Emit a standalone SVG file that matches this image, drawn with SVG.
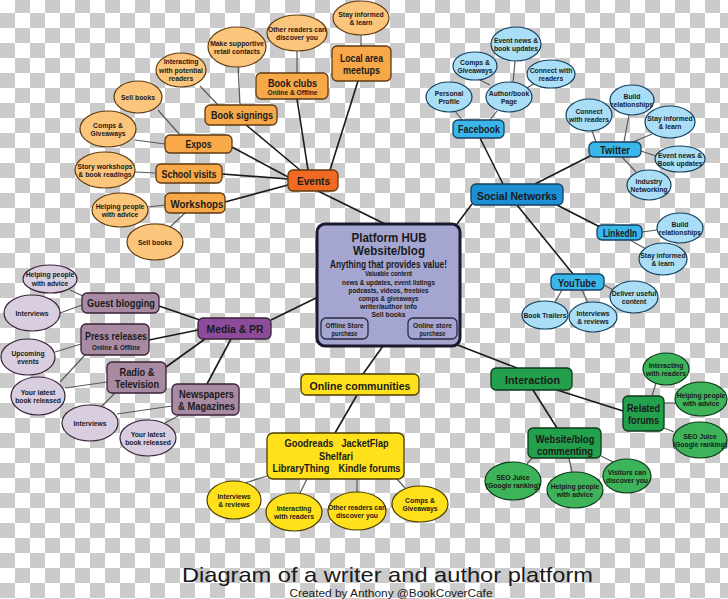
<svg xmlns="http://www.w3.org/2000/svg" width="728" height="599" viewBox="0 0 728 599">
<defs>
<pattern id="chk" x="0" y="-2" width="30" height="30" patternUnits="userSpaceOnUse">
<rect width="30" height="30" fill="#ffffff"/>
<rect x="15" y="0" width="15" height="15" fill="#cbcbcb"/>
<rect x="0" y="15" width="15" height="15" fill="#cbcbcb"/>
</pattern>
</defs>
<style>
text{font-family:"Liberation Sans",Arial,sans-serif;font-weight:bold;text-anchor:middle;fill:#1a1a1a}
.L{font-size:11.5px}
.S{font-size:7.5px}
.E{font-size:6.8px}
.H{font-size:12px}
.ttl{font-weight:normal;font-size:21px}
.sub{font-weight:normal;font-size:11px}
.m{stroke:#1a1a1a;stroke-width:1.6;fill:none}
.s{stroke:#5a5a5a;stroke-width:1.2;fill:none}
.ob{fill:#f7a848;stroke:#5e3b12;stroke-width:1.3}
.oe{fill:#fcc57c;stroke:#5e3b12;stroke-width:1.2}
.ev{fill:#f26a22;stroke:#5e3b12;stroke-width:1.3}
.bb{fill:#3ab6ea;stroke:#14405e;stroke-width:1.3}
.be{fill:#a9def6;stroke:#14405e;stroke-width:1.2}
.sn{fill:#1b90d3;stroke:#14405e;stroke-width:1.3}
.pb{fill:#a88aa3;stroke:#3a2238;stroke-width:1.3}
.pe{fill:#d9cee0;stroke:#3a2238;stroke-width:1.2}
.mp{fill:#8d4c9b;stroke:#3a2238;stroke-width:1.3}
.yb{fill:#ffe11b;stroke:#4a3d00;stroke-width:1.3}
.ye{fill:#ffe11b;stroke:#4a3d00;stroke-width:1.2}
.gb{fill:#23a04c;stroke:#0c3a1a;stroke-width:1.3}
.ge{fill:#3db35a;stroke:#0c3a1a;stroke-width:1.2}
.hub{fill:#a4a5d1;stroke:#1a1a2e;stroke-width:3}
.hs{fill:#a4a5d1;stroke:#2a2a40;stroke-width:1.3}
</style>
<rect width="728" height="599" fill="url(#chk)"/>

<g id="connectors">
<!-- events -->
<path class="m" d="M245,124 L300,170"/>
<path class="m" d="M297,99 L308,170"/>
<path class="m" d="M358,81 L330,170"/>
<path class="m" d="M232,147 L288,177"/>
<path class="m" d="M222,174 L288,179"/>
<path class="m" d="M225,202 L288,185"/>
<path class="m" d="M318,191 L385,224"/>
<path class="s" d="M200,86 L218,105"/>
<path class="s" d="M238,65 L240,105"/>
<path class="s" d="M158,110 L180,135"/>
<path class="s" d="M135,140 L165,144"/>
<path class="s" d="M135,172 L156,173"/>
<path class="s" d="M148,207 L165,205"/>
<path class="s" d="M170,227 L185,213"/>
<path class="s" d="M297,51 L297,73"/>
<path class="s" d="M361,35 L361,46"/>
<!-- social -->
<path class="m" d="M480,138 L503,184"/>
<path class="m" d="M535,184 L592,155"/>
<path class="m" d="M557,205 L600,227"/>
<path class="m" d="M472,204 L457,224"/>
<path class="m" d="M517,205 L573,274"/>
<path class="s" d="M462,120 L455,111"/>
<path class="s" d="M490,120 L497,111"/>
<path class="s" d="M490,85 L478,79"/>
<path class="s" d="M513,83 L515,61"/>
<path class="s" d="M527,88 L535,83"/>
<path class="s" d="M596,142 L592,131"/>
<path class="s" d="M624,142 L629,115"/>
<path class="s" d="M633,142 L652,134"/>
<path class="s" d="M641,151 L656,156"/>
<path class="s" d="M622,157 L636,172"/>
<path class="s" d="M642,232 L657,230"/>
<path class="s" d="M630,240 L646,249"/>
<path class="s" d="M562,290 L555,302"/>
<path class="s" d="M582,290 L588,303"/>
<path class="s" d="M604,285 L613,290"/>
<!-- media -->
<path class="m" d="M159,306 L200,320"/>
<path class="m" d="M149,340 L198,330"/>
<path class="m" d="M166,367 L205,339"/>
<path class="m" d="M207,384 L231,339"/>
<path class="m" d="M271,320 L318,297"/>
<path class="s" d="M70,290 L85,297"/>
<path class="s" d="M60,313 L82,305"/>
<path class="s" d="M55,352 L81,344"/>
<path class="s" d="M60,382 L85,355"/>
<path class="s" d="M65,388 L107,382"/>
<path class="s" d="M100,408 L115,393"/>
<path class="s" d="M117,414 L172,406"/>
<path class="s" d="M165,423 L180,415"/>
<!-- online communities -->
<path class="m" d="M383,346 L363,374"/>
<path class="m" d="M357,395 L335,433"/>
<path class="s" d="M245,483 L267,476"/>
<path class="s" d="M300,493 L307,479"/>
<path class="s" d="M357,492 L357,479"/>
<path class="s" d="M405,488 L397,479"/>
<!-- interaction -->
<path class="m" d="M455,344 L517,368"/>
<path class="m" d="M533,390 L557,428"/>
<path class="m" d="M557,390 L623,411"/>
<path class="s" d="M652,396 L656,383"/>
<path class="s" d="M664,403 L675,403"/>
<path class="s" d="M664,428 L674,432"/>
<path class="s" d="M532,458 L527,464"/>
<path class="s" d="M569,458 L572,472"/>
<path class="s" d="M601,456 L613,462"/>
</g>

<!-- EVENTS cluster -->
<g id="ev-stay"><ellipse class="oe" cx="361" cy="18" rx="28" ry="17"/><text class="E" x="361" y="16.5">Stay informed</text><text class="E" x="361" y="25">&amp; learn</text></g>
<g id="ev-other"><ellipse class="oe" cx="297" cy="33" rx="30" ry="18"/><text class="E" x="297" y="31.5">Other readers can</text><text class="E" x="297" y="40">discover you</text></g>
<g id="ev-make"><ellipse class="oe" cx="237" cy="47" rx="29" ry="20"/><text class="E" x="237" y="45.5">Make supportive</text><text class="E" x="237" y="54">retail contacts</text></g>
<g id="ev-interact"><ellipse class="oe" cx="181" cy="70" rx="25" ry="17"/><text class="E" x="181" y="64">Interacting</text><text class="E" x="181" y="72.5">with potential</text><text class="E" x="181" y="81">readers</text></g>
<g id="ev-sell1"><ellipse class="oe" cx="138" cy="97" rx="24" ry="16"/><text class="E" x="138" y="99.5">Sell books</text></g>
<g id="ev-comps"><ellipse class="oe" cx="108" cy="129" rx="28" ry="18"/><text class="E" x="108" y="127.5">Comps &amp;</text><text class="E" x="108" y="136">Giveaways</text></g>
<g id="ev-story"><ellipse class="oe" cx="105" cy="170" rx="30" ry="18"/><text class="E" x="105" y="168.5">Story workshops</text><text class="E" x="105" y="177">&amp; book readings</text></g>
<g id="ev-help"><ellipse class="oe" cx="120" cy="210" rx="28" ry="17"/><text class="E" x="120" y="208.5">Helping people</text><text class="E" x="120" y="217">with advice</text></g>
<g id="ev-sell2"><ellipse class="oe" cx="155" cy="242" rx="28" ry="18"/><text class="E" x="155" y="244.5">Sell books</text></g>

<g id="local-meetups"><rect class="ob" x="332" y="46" width="59" height="35" rx="5"/><text class="L" x="361.5" y="62" textLength="43" lengthAdjust="spacingAndGlyphs">Local area</text><text class="L" x="361.5" y="74" textLength="37" lengthAdjust="spacingAndGlyphs">meetups</text></g>
<g id="book-clubs"><rect class="ob" x="256" y="73" width="72" height="26" rx="5"/><text class="L" x="292.5" y="87" textLength="49" lengthAdjust="spacingAndGlyphs">Book clubs</text><text class="S" x="292.5" y="95" textLength="50" lengthAdjust="spacingAndGlyphs">Online &amp; Offline</text></g>
<g id="book-signings"><rect class="ob" x="205" y="105" width="72" height="20" rx="5"/><text class="L" x="242" y="119" textLength="62" lengthAdjust="spacingAndGlyphs">Book signings</text></g>
<g id="expos"><rect class="ob" x="165" y="135" width="67" height="18" rx="5"/><text class="L" x="198.5" y="148" textLength="26" lengthAdjust="spacingAndGlyphs">Expos</text></g>
<g id="school-visits"><rect class="ob" x="156" y="164" width="66" height="19" rx="5"/><text class="L" x="189" y="178" textLength="55" lengthAdjust="spacingAndGlyphs">School visits</text></g>
<g id="workshops"><rect class="ob" x="165" y="193" width="60" height="20" rx="5"/><text class="L" x="197" y="207.5" textLength="53" lengthAdjust="spacingAndGlyphs">Workshops</text></g>
<g id="events"><rect class="ev" x="288" y="170" width="50" height="21" rx="5"/><text class="L" x="313.5" y="185" textLength="33" lengthAdjust="spacingAndGlyphs">Events</text></g>

<!-- SOCIAL cluster -->
<g id="fb-event"><ellipse class="be" cx="516" cy="44" rx="25" ry="17"/><text class="E" x="516" y="42.5">Event news &amp;</text><text class="E" x="516" y="51">book updates</text></g>
<g id="fb-comps"><ellipse class="be" cx="475" cy="66" rx="22" ry="14"/><text class="E" x="475" y="64.5">Comps &amp;</text><text class="E" x="475" y="73">Giveaways</text></g>
<g id="fb-connect"><ellipse class="be" cx="551" cy="74" rx="24" ry="14"/><text class="E" x="551" y="72.5">Connect with</text><text class="E" x="551" y="81">readers</text></g>
<g id="fb-personal"><ellipse class="be" cx="449" cy="97" rx="23" ry="15"/><text class="E" x="449" y="95.5">Personal</text><text class="E" x="449" y="104">Profile</text></g>
<g id="fb-author"><ellipse class="be" cx="509" cy="97" rx="23" ry="15"/><text class="E" x="509" y="95.5">Author/book</text><text class="E" x="509" y="104">Page</text></g>
<g id="tw-build"><ellipse class="be" cx="632" cy="100" rx="22" ry="15"/><text class="E" x="632" y="98.5">Build</text><text class="E" x="632" y="107">relationships</text></g>
<g id="tw-connect"><ellipse class="be" cx="589" cy="115" rx="23" ry="16"/><text class="E" x="589" y="113.5">Connect</text><text class="E" x="589" y="122">with readers</text></g>
<g id="tw-stay"><ellipse class="be" cx="670" cy="122" rx="25" ry="16"/><text class="E" x="670" y="120.5">Stay informed</text><text class="E" x="670" y="129">&amp; learn</text></g>
<g id="tw-event"><ellipse class="be" cx="680" cy="159" rx="25" ry="13"/><text class="E" x="680" y="157.5">Event news &amp;</text><text class="E" x="680" y="166">Book updates</text></g>
<g id="tw-industry"><ellipse class="be" cx="649" cy="185" rx="22" ry="15"/><text class="E" x="649" y="183.5">Industry</text><text class="E" x="649" y="192">Networking</text></g>
<g id="li-build"><ellipse class="be" cx="680" cy="228" rx="23" ry="15"/><text class="E" x="680" y="226.5">Build</text><text class="E" x="680" y="235">relationships</text></g>
<g id="li-stay"><ellipse class="be" cx="663" cy="259" rx="24" ry="16"/><text class="E" x="663" y="257.5">Stay informed</text><text class="E" x="663" y="266">&amp; learn</text></g>
<g id="yt-deliver"><ellipse class="be" cx="634" cy="297" rx="24" ry="16"/><text class="E" x="634" y="295.5">Deliver useful</text><text class="E" x="634" y="304">content</text></g>
<g id="yt-trailers"><ellipse class="be" cx="545" cy="315" rx="23" ry="14"/><text class="E" x="545" y="317.5">Book Trailers</text></g>
<g id="yt-interviews"><ellipse class="be" cx="593" cy="317" rx="24" ry="15"/><text class="E" x="593" y="315.5">Interviews</text><text class="E" x="593" y="324">&amp; reviews</text></g>

<g id="facebook"><rect class="bb" x="453" y="120" width="51" height="18" rx="5"/><text class="L" x="479" y="133" textLength="42" lengthAdjust="spacingAndGlyphs">Facebook</text></g>
<g id="twitter"><rect class="bb" x="589" y="142" width="52" height="15" rx="5"/><text class="L" x="615" y="154" textLength="30" lengthAdjust="spacingAndGlyphs">Twitter</text></g>
<g id="social-networks"><rect class="sn" x="471" y="184" width="92" height="21" rx="5"/><text class="L" x="517" y="199.5" textLength="80" lengthAdjust="spacingAndGlyphs">Social Networks</text></g>
<g id="linkedin"><rect class="bb" x="597" y="225" width="45" height="15" rx="5"/><text class="L" x="620" y="237" textLength="34" lengthAdjust="spacingAndGlyphs">LinkedIn</text></g>
<g id="youtube"><rect class="bb" x="551" y="274" width="53" height="16" rx="5"/><text class="L" x="577" y="286.5" textLength="38" lengthAdjust="spacingAndGlyphs">YouTube</text></g>

<!-- MEDIA cluster -->
<g id="mp-help"><ellipse class="pe" cx="50" cy="279" rx="27" ry="14"/><text class="E" x="50" y="277">Helping people</text><text class="E" x="50" y="285.5">with advice</text></g>
<g id="mp-interviews1"><ellipse class="pe" cx="32" cy="313" rx="28" ry="18"/><text class="E" x="32" y="315.5">Interviews</text></g>
<g id="mp-upcoming"><ellipse class="pe" cx="28" cy="357" rx="27" ry="18"/><text class="E" x="28" y="355.5">Upcoming</text><text class="E" x="28" y="364">events</text></g>
<g id="mp-latest1"><ellipse class="pe" cx="38" cy="396" rx="27" ry="19"/><text class="E" x="38" y="394.5">Your latest</text><text class="E" x="38" y="403">book released</text></g>
<g id="mp-interviews2"><ellipse class="pe" cx="90" cy="423" rx="28" ry="18"/><text class="E" x="90" y="425.5">Interviews</text></g>
<g id="mp-latest2"><ellipse class="pe" cx="148" cy="438" rx="28" ry="18"/><text class="E" x="148" y="436.5">Your latest</text><text class="E" x="148" y="445">book released</text></g>

<g id="guest-blogging"><rect class="pb" x="82" y="293" width="77" height="20" rx="5"/><text class="L" x="121" y="307" textLength="68" lengthAdjust="spacingAndGlyphs">Guest blogging</text></g>
<g id="press-releases"><rect class="pb" x="81" y="324" width="68" height="31" rx="5"/><text class="L" x="116" y="340" textLength="62" lengthAdjust="spacingAndGlyphs">Press releases</text><text class="S" x="116" y="349.5" textLength="48" lengthAdjust="spacingAndGlyphs">Online &amp; Offline</text></g>
<g id="media-pr"><rect class="mp" x="198" y="318" width="73" height="21" rx="5"/><text class="L" x="235" y="333" textLength="57" lengthAdjust="spacingAndGlyphs">Media &amp; PR</text></g>
<g id="radio-tv"><rect class="pb" x="107" y="362" width="59" height="31" rx="5"/><text class="L" x="137" y="375.5" textLength="35" lengthAdjust="spacingAndGlyphs">Radio &amp;</text><text class="L" x="137" y="387.5" textLength="44" lengthAdjust="spacingAndGlyphs">Television</text></g>
<g id="newspapers"><rect class="pb" x="172" y="384" width="67" height="31" rx="5"/><text class="L" x="206.5" y="397.5" textLength="55" lengthAdjust="spacingAndGlyphs">Newspapers</text><text class="L" x="206.5" y="409.5" textLength="57" lengthAdjust="spacingAndGlyphs">&amp; Magazines</text></g>

<!-- HUB -->
<g id="platform-hub">
<rect class="hub" x="317" y="224" width="143" height="122" rx="8"/>
<text class="H" x="389" y="241.5" textLength="75" lengthAdjust="spacingAndGlyphs">Platform HUB</text>
<text class="H" x="389" y="254.5" textLength="72" lengthAdjust="spacingAndGlyphs">Website/blog</text>
<text x="388.5" y="267.5" style="font-size:10px" textLength="117" lengthAdjust="spacingAndGlyphs">Anything that provides value!</text>
<text class="S" x="388.5" y="276" textLength="47" lengthAdjust="spacingAndGlyphs">Valuable content</text>
<text class="S" x="388.5" y="284.5" textLength="93" lengthAdjust="spacingAndGlyphs">news &amp; updates, event listings</text>
<text class="S" x="388.5" y="292.5" textLength="80" lengthAdjust="spacingAndGlyphs">podcasts, videos, freebies</text>
<text class="S" x="388.5" y="301" textLength="60" lengthAdjust="spacingAndGlyphs">comps &amp; giveaways</text>
<text class="S" x="388.5" y="309" textLength="57" lengthAdjust="spacingAndGlyphs">writer/author info</text>
<text class="S" x="388.5" y="317" textLength="34" lengthAdjust="spacingAndGlyphs">Sell books</text>
</g>
<g id="offline-store"><rect class="hs" x="321" y="318" width="47" height="21" rx="5"/><text class="S" x="344.5" y="327.5" textLength="38" lengthAdjust="spacingAndGlyphs">Offline Store</text><text class="S" x="344.5" y="335.5" textLength="26" lengthAdjust="spacingAndGlyphs">purchase</text></g>
<g id="online-store"><rect class="hs" x="408" y="318" width="49" height="21" rx="5"/><text class="S" x="432.5" y="327.5" textLength="39" lengthAdjust="spacingAndGlyphs">Online store</text><text class="S" x="432.5" y="335.5" textLength="26" lengthAdjust="spacingAndGlyphs">purchase</text></g>

<!-- ONLINE COMMUNITIES -->
<g id="online-communities"><rect class="yb" x="301" y="374" width="118" height="21" rx="5"/><text class="L" x="360" y="389.5" textLength="101" lengthAdjust="spacingAndGlyphs">Online communities</text></g>
<g id="communities-list"><rect class="yb" x="267" y="433" width="137" height="46" rx="6"/>
<text class="L" x="309" y="447" textLength="49" lengthAdjust="spacingAndGlyphs">Goodreads</text>
<text class="L" x="365" y="447" textLength="47" lengthAdjust="spacingAndGlyphs">JacketFlap</text>
<text class="L" x="336" y="459.5" textLength="34" lengthAdjust="spacingAndGlyphs">Shelfari</text>
<text class="L" x="301" y="472" textLength="57" lengthAdjust="spacingAndGlyphs">LibraryThing</text>
<text class="L" x="369.5" y="472" textLength="62" lengthAdjust="spacingAndGlyphs">Kindle forums</text>
</g>
<g id="oc-interviews"><ellipse class="ye" cx="234" cy="500" rx="27" ry="19"/><text class="E" x="234" y="498.5">Interviews</text><text class="E" x="234" y="507">&amp; reviews</text></g>
<g id="oc-interacting"><ellipse class="ye" cx="294" cy="512" rx="28" ry="19"/><text class="E" x="294" y="510.5">Interacting</text><text class="E" x="294" y="519">with readers</text></g>
<g id="oc-other"><ellipse class="ye" cx="357" cy="511" rx="29" ry="19"/><text class="E" x="357" y="509.5">Other readers can</text><text class="E" x="357" y="518">discover you</text></g>
<g id="oc-comps"><ellipse class="ye" cx="420" cy="504" rx="28" ry="18"/><text class="E" x="420" y="502.5">Comps &amp;</text><text class="E" x="420" y="511">Giveaways</text></g>

<!-- INTERACTION -->
<g id="interaction"><rect class="gb" x="491" y="368" width="81" height="22" rx="5"/><text class="L" x="532.5" y="384" textLength="55" lengthAdjust="spacingAndGlyphs">Interaction</text></g>
<g id="related-forums"><rect class="gb" x="623" y="396" width="41" height="35" rx="5"/><text class="L" x="643.5" y="411.5" textLength="33" lengthAdjust="spacingAndGlyphs">Related</text><text class="L" x="643.5" y="423.5" textLength="31" lengthAdjust="spacingAndGlyphs">forums</text></g>
<g id="website-commenting"><rect class="gb" x="528" y="428" width="73" height="30" rx="5"/><text class="L" x="565" y="443" textLength="59" lengthAdjust="spacingAndGlyphs">Website/blog</text><text class="L" x="565" y="454.5" textLength="56" lengthAdjust="spacingAndGlyphs">commenting</text></g>
<g id="rf-interacting"><ellipse class="ge" cx="666" cy="369" rx="23" ry="16"/><text class="E" x="666" y="367.5">Interacting</text><text class="E" x="666" y="376">with readers</text></g>
<g id="rf-helping"><ellipse class="ge" cx="701" cy="399" rx="26" ry="17"/><text class="E" x="701" y="397.5">Helping people</text><text class="E" x="701" y="406">with advice</text></g>
<g id="rf-seo"><ellipse class="ge" cx="700" cy="440" rx="27" ry="18"/><text class="E" x="700" y="438.5">SEO Juice</text><text class="E" x="700" y="447">(Google ranking)</text></g>
<g id="wc-seo"><ellipse class="ge" cx="513" cy="481" rx="28" ry="19"/><text class="E" x="513" y="479.5">SEO Juice</text><text class="E" x="513" y="488">(Google ranking)</text></g>
<g id="wc-helping"><ellipse class="ge" cx="575" cy="490" rx="28" ry="18"/><text class="E" x="575" y="488.5">Helping people</text><text class="E" x="575" y="497">with advice</text></g>
<g id="wc-visitors"><ellipse class="ge" cx="627" cy="476" rx="24" ry="17"/><text class="E" x="627" y="474.5">Visitors can</text><text class="E" x="627" y="483">discover you</text></g>

<!-- TITLE -->
<g id="title">
<text class="ttl" x="387.5" y="582" textLength="411" lengthAdjust="spacingAndGlyphs">Diagram of a writer and author platform</text>
<text class="sub" x="391" y="597" textLength="203" lengthAdjust="spacingAndGlyphs">Created by Anthony @BookCoverCafe</text>
</g>
</svg>
